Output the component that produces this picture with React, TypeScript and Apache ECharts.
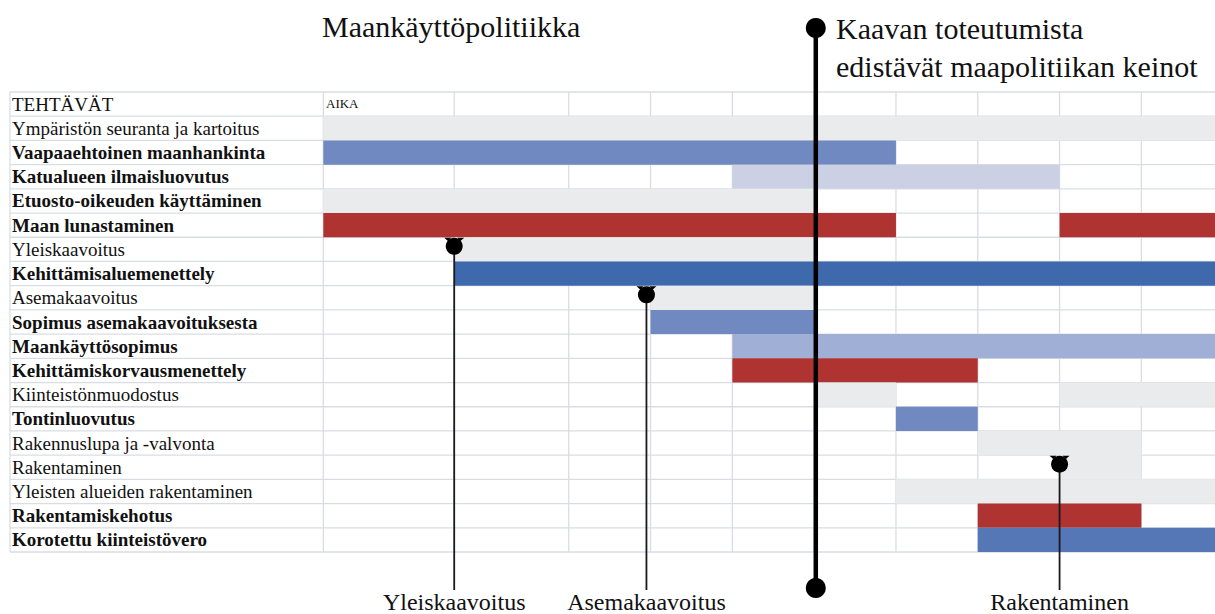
import React, { useEffect, useRef } from 'react';
import * as echarts from 'echarts';

const tasks = [
  'TEHTÄVÄT',
  'Ympäristön seuranta ja kartoitus',
  'Vaapaaehtoinen maanhankinta',
  'Katualueen ilmaisluovutus',
  'Etuosto-oikeuden käyttäminen',
  'Maan lunastaminen',
  'Yleiskaavoitus',
  'Kehittämisaluemenettely',
  'Asemakaavoitus',
  'Sopimus asemakaavoituksesta',
  'Maankäyttösopimus',
  'Kehittämiskorvausmenettely',
  'Kiinteistönmuodostus',
  'Tontinluovutus',
  'Rakennuslupa ja -valvonta',
  'Rakentaminen',
  'Yleisten alueiden rakentaminen',
  'Rakentamiskehotus',
  'Korotettu kiinteistövero',
];

const boldTasks = [
  'Vaapaaehtoinen maanhankinta',
  'Katualueen ilmaisluovutus',
  'Etuosto-oikeuden käyttäminen',
  'Maan lunastaminen',
  'Kehittämisaluemenettely',
  'Sopimus asemakaavoituksesta',
  'Maankäyttösopimus',
  'Kehittämiskorvausmenettely',
  'Tontinluovutus',
  'Rakentamiskehotus',
  'Korotettu kiinteistövero',
];

// time axis (column edges of the Gantt table)
const columnEdges = [0, 1.6, 3, 4, 5, 6, 7, 8, 9, 10];
const timeEnd = 10.9;
const labelColumn = -3.83;

// [task, start, end, colour]
const bars: [string, number, number, string][] = [
  ['Ympäristön seuranta ja kartoitus', 0, 10.9, 'gray'],
  ['Vaapaaehtoinen maanhankinta', 0, 7, 'blue'],
  ['Katualueen ilmaisluovutus', 5, 9, 'lavender'],
  ['Etuosto-oikeuden käyttäminen', 0, 6, 'gray'],
  ['Maan lunastaminen', 0, 7, 'red'],
  ['Maan lunastaminen', 9, 10.9, 'red'],
  ['Yleiskaavoitus', 1.6, 6, 'gray'],
  ['Kehittämisaluemenettely', 1.6, 10.9, 'darkBlue'],
  ['Asemakaavoitus', 4, 6, 'gray'],
  ['Sopimus asemakaavoituksesta', 4, 6, 'blue'],
  ['Maankäyttösopimus', 5, 10.9, 'lightBlue'],
  ['Kehittämiskorvausmenettely', 5, 8, 'red'],
  ['Kiinteistönmuodostus', 6, 7, 'gray'],
  ['Kiinteistönmuodostus', 9, 10.9, 'gray'],
  ['Tontinluovutus', 7, 8, 'blue'],
  ['Rakennuslupa ja -valvonta', 8, 10, 'gray'],
  ['Rakentaminen', 9, 10, 'gray'],
  ['Yleisten alueiden rakentaminen', 7, 10.9, 'gray'],
  ['Rakentamiskehotus', 8, 10, 'red'],
  ['Korotettu kiinteistövero', 8, 10.9, 'midBlue'],
];

const colors: Record<string, string> = {
  gray: '#EAEBED',
  blue: '#7089C0',
  lavender: '#CBD0E4',
  red: '#AE3331',
  darkBlue: '#3E69AC',
  lightBlue: '#A0AFD5',
  midBlue: '#5577B5',
};
const colorKeys = Object.keys(colors);

// [task row, time, label]
const milestones: [string, number, string][] = [
  ['Yleiskaavoitus', 1.6, 'Yleiskaavoitus'],
  ['Asemakaavoitus', 3.95, 'Asemakaavoitus'],
  ['Rakentaminen', 9, 'Rakentaminen'],
];

const keyMoment = 6.02;

const FONT = '"Liberation Serif", "DejaVu Serif", serif';
const GRID_COLOR = '#D9DDE3';

export default function App() {
  const ref = useRef<HTMLDivElement>(null);
  useEffect(() => {
    if (!ref.current) return;
    const chart = echarts.init(ref.current, null, { renderer: 'svg' });
    const rowCount = tasks.length;
    const titleStyle = { fontFamily: FONT, fontSize: 30, fill: '#111' };
    const option: any = {
      animation: false,
      grid: { left: 10, right: 0, top: 92, height: 460 },
      xAxis: { type: 'value', min: labelColumn, max: timeEnd, show: false },
      yAxis: {
        type: 'category',
        data: tasks,
        inverse: true,
        axisLine: { show: false },
        axisTick: { show: false },
        splitLine: { show: false },
        axisLabel: {
          inside: true,
          margin: 2,
          align: 'left',
          formatter: (v: string) => (boldTasks.includes(v) ? `{b|${v}}` : `{n|${v}}`),
          rich: {
            b: { fontFamily: FONT, fontSize: 19, fontWeight: 'bold', color: '#111' },
            n: { fontFamily: FONT, fontSize: 19, color: '#111' },
          },
        },
      },
      graphic: [
        { type: 'text', left: 322, top: 11, style: { ...titleStyle, text: 'Maankäyttöpolitiikka' } },
        { type: 'text', left: 836, top: 13, style: { ...titleStyle, text: 'Kaavan toteutumista' } },
        { type: 'text', left: 836, top: 51, style: { ...titleStyle, text: 'edistävät maapolitiikan keinot' } },
        { type: 'text', left: 326, top: 97, style: { fontFamily: FONT, fontSize: 13, fill: '#111', text: 'AIKA' } },
      ],
      series: [
        {
          type: 'custom',
          name: 'vgrid',
          z: 1,
          silent: true,
          clip: false,
          encode: { x: 0, y: 1 },
          data: [labelColumn, ...columnEdges].map((v) => [v, 0]),
          renderItem: (params: any, api: any) => {
            const cs = params.coordSys;
            const x = api.coord([api.value(0), 0])[0];
            return {
              type: 'line',
              shape: { x1: x, y1: cs.y, x2: x, y2: cs.y + cs.height },
              style: { stroke: GRID_COLOR, lineWidth: 1.3 },
            };
          },
        },
        {
          type: 'custom',
          name: 'hgrid',
          z: 1,
          silent: true,
          clip: false,
          encode: { x: 0, y: 1 },
          data: Array.from({ length: rowCount + 1 }, (_, i) => [0, Math.min(i, rowCount - 1), i]),
          renderItem: (params: any, api: any) => {
            const cs = params.coordSys;
            const i = api.value(2);
            const h = api.size([0, 1])[1];
            const c = api.coord([0, api.value(1)])[1];
            const y = i >= rowCount ? c + h / 2 : c - h / 2;
            return {
              type: 'line',
              shape: { x1: cs.x, y1: y, x2: cs.x + cs.width, y2: y },
              style: { stroke: GRID_COLOR, lineWidth: 1.3 },
            };
          },
        },
        {
          type: 'custom',
          name: 'bars',
          z: 2,
          clip: false,
          encode: { x: [1, 2], y: 0 },
          data: bars.map((b) => [tasks.indexOf(b[0]), b[1], b[2], colorKeys.indexOf(b[3])]),
          renderItem: (params: any, api: any) => {
            const row = api.value(0);
            const p0 = api.coord([api.value(1), row]);
            const p1 = api.coord([api.value(2), row]);
            const h = api.size([0, 1])[1];
            return {
              type: 'rect',
              shape: { x: p0[0], y: p0[1] - h / 2, width: p1[0] - p0[0], height: h },
              style: { fill: colors[colorKeys[api.value(3)]] },
            };
          },
        },
        {
          type: 'custom',
          name: 'milestones',
          z: 5,
          clip: false,
          encode: { x: 1, y: 0 },
          data: milestones.map((m) => [tasks.indexOf(m[0]), m[1], m[2]]),
          renderItem: (params: any, api: any) => {
            const cs = params.coordSys;
            const p = api.coord([api.value(1), api.value(0)]);
            const cx = p[0];
            const cy = p[1] - 3;
            const bottom = cs.y + cs.height + 38;
            const label = milestones[params.dataIndex][2];
            return {
              type: 'group',
              children: [
                { type: 'line', shape: { x1: cx, y1: cy, x2: cx, y2: bottom }, style: { stroke: '#1a1a1a', lineWidth: 1.8 } },
                { type: 'circle', shape: { cx, cy, r: 8.5 }, style: { fill: '#000' } },
                { type: 'polygon', shape: { points: [[cx - 6, cy - 5], [cx - 10, cy - 8.5], [cx - 3, cy - 8.5]] }, style: { fill: '#000' } },
                { type: 'polygon', shape: { points: [[cx + 6, cy - 5], [cx + 10, cy - 8.5], [cx + 3, cy - 8.5]] }, style: { fill: '#000' } },
                {
                  type: 'text',
                  x: cx,
                  y: bottom + 12,
                  style: { text: label, fontFamily: FONT, fontSize: 24, fill: '#111', align: 'center', verticalAlign: 'middle' },
                },
              ],
            };
          },
        },
        {
          type: 'custom',
          name: 'keyline',
          z: 6,
          clip: false,
          encode: { x: 0, y: 1 },
          data: [[keyMoment, 0]],
          renderItem: (params: any, api: any) => {
            const cs = params.coordSys;
            const x = api.coord([api.value(0), 0])[0];
            const top = cs.y - 64;
            const bottom = cs.y + cs.height + 36;
            return {
              type: 'group',
              children: [
                { type: 'line', shape: { x1: x, y1: top, x2: x, y2: bottom }, style: { stroke: '#000', lineWidth: 4.5 } },
                { type: 'circle', shape: { cx: x, cy: top, r: 10 }, style: { fill: '#000' } },
                { type: 'circle', shape: { cx: x, cy: bottom, r: 10 }, style: { fill: '#000' } },
              ],
            };
          },
        },
      ],
    };
    chart.setOption(option);
    return () => chart.dispose();
  }, []);
  return (
    <div
      ref={ref}
      style={{ position: 'fixed', left: 0, top: 0, width: 1215, height: 614, background: '#fff' }}
    />
  );
}
